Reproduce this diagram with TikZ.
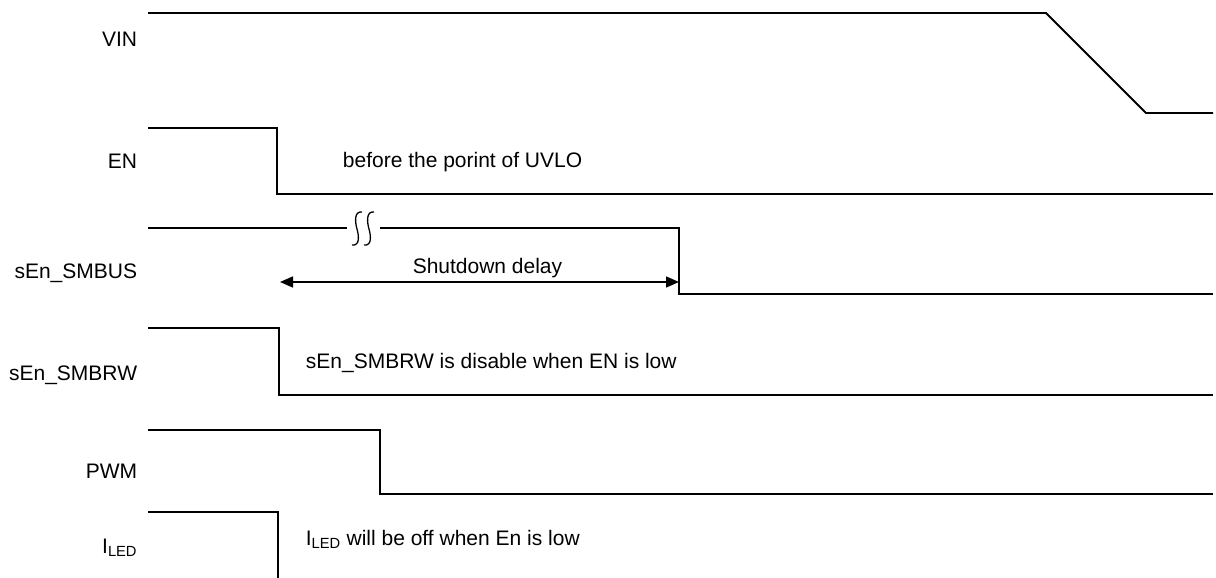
\documentclass[tikz,border=0pt]{standalone}
\usepackage{fontspec}
\setmainfont{Liberation Sans}
\usetikzlibrary{arrows.meta}

\begin{document}
\begin{tikzpicture}[x=1pt, y=-1pt, line width=1.8pt,
    every node/.style={font=\fontsize{21}{25}\selectfont, inner sep=0pt},
    signame/.style={anchor=base east},
    note/.style={anchor=base west}]
	\useasboundingbox (0,0) rectangle (1216,578);
	% Signal names
	\node[signame] (vin) at (138,47) {VIN};
	\node[signame] (en) at (138,168) {EN};
	\node[signame] (smbus) at (138,278) {sEn\_SMBUS};
	\node[signame] (smbrw) at (138,380) {sEn\_SMBRW};
	\node[signame] (pwm) at (138,478) {PWM};
	\node[signame] (iled) at (138,553) {I\textsubscript{LED}};
	% Waveforms
	\draw (148,13) -- (1046,13) -- (1146,113) -- (1213,113);
	\draw (148,128) -- (277,128) -- (277,194) -- (1213,194);
	\draw (148,228) -- (347,228);
	\draw (380,228) -- (679,228) -- (679,294) -- (1213,294);
	\draw (148,328) -- (279,328) -- (279,395) -- (1213,395);
	\draw (148,430) -- (380,430) -- (380,494) -- (1213,494);
	\draw (148,512) -- (278,512) -- (278,580);
	% Break mark
	\foreach \x in {357,369}
		\draw[line width=1.3pt] (\x+5,212) .. controls (\x-3,211) and (\x-2,222) .. (\x,229)
			.. controls (\x+2,236) and (\x+3,246) .. (\x-5,245);
	% Delay arrow
	\coordinate (a) at (280,282);
	\coordinate (b) at (679,282);
	\draw[{Triangle[length=13pt,width=11pt]}-{Triangle[length=13pt,width=11pt]}, line width=1.5pt]
		(a) -- (b) node[pos=0.52, anchor=base, yshift=9pt] {Shutdown delay};
	% Notes
	\node[note] (n1) at (342,167) {before the porint of UVLO};
	\node[note] (n2) at (305,368) {sEn\_SMBRW is disable when EN is low};
	\node[note] (n3) at (305,545) {I\textsubscript{LED} will be off when En is low};
\end{tikzpicture}
\end{document}
